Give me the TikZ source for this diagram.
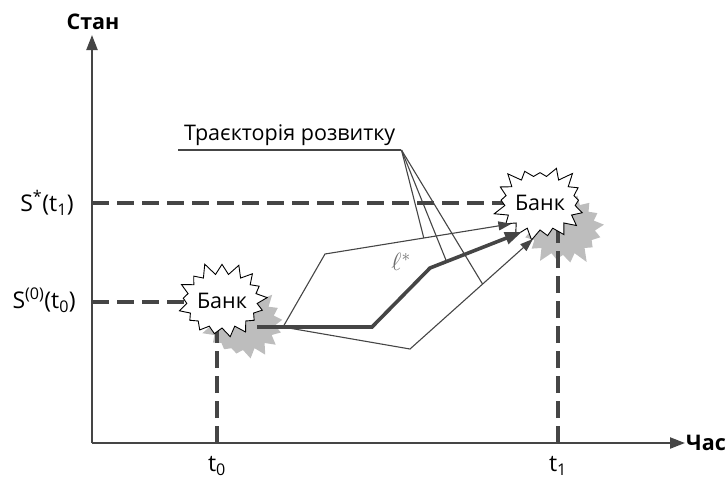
\documentclass[tikz,border=0pt]{standalone}
\usepackage{fontspec}
\setmainfont{Open Sans}
\usetikzlibrary{arrows.meta,shapes.symbols}
\pgfdeclarelayer{background}
\pgfsetlayers{background,main}
\definecolor{linegray}{HTML}{454545}
\definecolor{shadegray}{HTML}{BDBDBD}
\definecolor{markgray}{HTML}{6E6E6E}
\newcommand{\bigtxt}{\fontsize{21.5}{26}\selectfont}
\newcommand{\axtxt}{\fontsize{23}{28}\selectfont}
\tikzset{
  axis/.style={line width=2.2pt,draw=linegray,-{Triangle[length=15pt,width=11pt]}},
  guide/.style={line width=4pt,draw=linegray,dash pattern=on 17pt off 8pt},
  bank/.style={starburst,starburst points=17,starburst point height=13pt,
    minimum width=90pt,minimum height=80pt,inner sep=0pt,font=\bigtxt},
  bankwhite/.style={bank,draw=black,fill=white,line width=0.9pt},
  bankshade/.style={bank,draw=none,fill=shadegray},
  mainpath/.style={line width=3.6pt,draw=linegray,-{Triangle[length=17pt,width=12pt]}},
  altpath/.style={line width=1.1pt,draw=linegray,-{Triangle[length=13pt,width=9pt]}},
  leader/.style={line width=1.1pt,draw=linegray},
  axlab/.style={font=\axtxt,inner sep=1pt}
}
\begin{document}
\begin{tikzpicture}[x=1pt,y=-1pt]
\useasboundingbox (0,0) rectangle (727,483);
% axes
\coordinate (orig) at (92,443);
\coordinate (ytop) at (92,35);
\coordinate (xend) at (685,443);
\draw[axis] (orig) -- (ytop);
\draw[axis] (orig) -- (xend);
\node[font=\bfseries\bigtxt] (ylab) at (93,22) {Стан};
\node[font=\bfseries\bigtxt,anchor=west,inner sep=1pt] (xlab) at (xend) {Час};
% banks
\node[bankwhite,random starburst=11] (bank0) at (222,301) {Банк};
\node[bankwhite,random starburst=23] (bank1) at (540,203) {Банк};
\coordinate (s0) at (92,302);
\coordinate (s1) at (92,203);
\coordinate (t0) at (217,443);
\coordinate (t1) at (558,443);
\begin{pgfonlayer}{background}
  \node[bankshade,random starburst=5] (bank0sh) at (243,323) {};
  \node[bankshade,random starburst=9] (bank1sh) at (563,228) {};
  \draw[guide] (s0) -- (s0 -| bank0.center);
  \draw[guide] (s1) -- (s1 -| bank1.center);
  \draw[guide] (t0) -- (t0 |- bank0.center);
  \draw[guide] (t1) -- (t1 |- bank1.center);
\end{pgfonlayer}
\node[axlab,anchor=east] (ls1) at (75,203) {S\textsuperscript{*}(t\textsubscript{1})};
\node[axlab,anchor=east] (ls0) at (77,300) {S\textsuperscript{(0)}(t\textsubscript{0})};
\node[axlab] (lt0) at (217,466) {t\textsubscript{0}};
\node[axlab] (lt1) at (558,466) {t\textsubscript{1}};
% trajectories
\coordinate (start) at (257,327);
\coordinate (fork) at (283,327);
\draw[mainpath] (start) -- (372,327) -- (430,268) -- coordinate[pos=0.18] (onmain) (bank1.238);
\draw[altpath] (fork) -- (325,254) -- coordinate[pos=0.53] (onup) (bank1.216);
\draw[altpath] (fork) -- (410,349) -- coordinate[pos=0.59] (onlow) (bank1.259);
\node[text=markgray,font=\fontsize{24}{28}\selectfont] (lstar) at (401,262) {$\ell^{*}$};
% label with leaders
\node[font=\bigtxt,anchor=south west,inner xsep=6pt,inner ysep=4pt] (trajlab) at (178,150) {Траєкторія розвитку};
\draw[leader] (trajlab.south west) -- (trajlab.south east);
\foreach \p in {onup,onmain,onlow}
  \draw[leader] (trajlab.south east) -- (\p);
\end{tikzpicture}
\end{document}
